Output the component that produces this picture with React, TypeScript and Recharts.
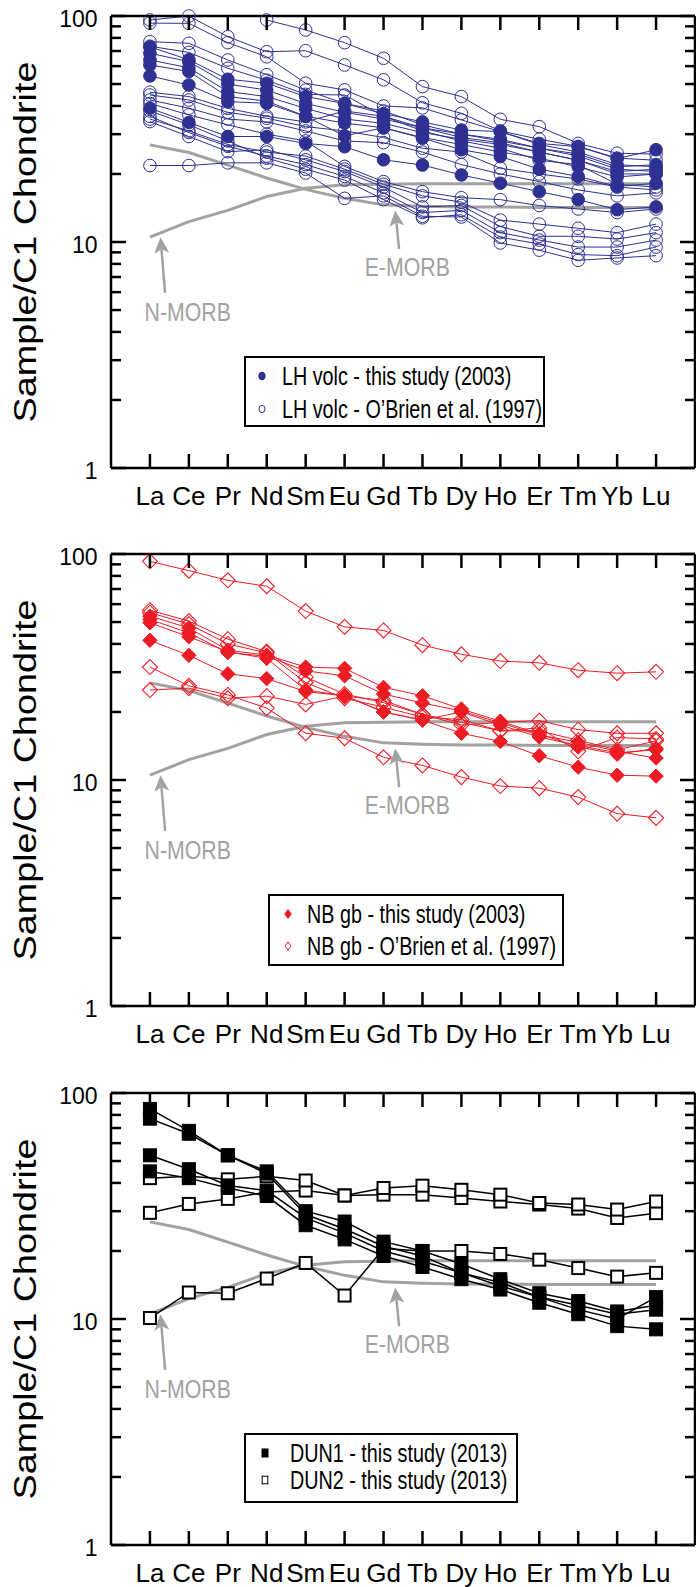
import React from 'react';
import { LineChart, Line, XAxis, YAxis, Legend, ReferenceLine, ReferenceDot } from 'recharts';

// ---------- data ----------
const ELEMENTS = ['La', 'Ce', 'Pr', 'Nd', 'Sm', 'Eu', 'Gd', 'Tb', 'Dy', 'Ho', 'Er', 'Tm', 'Yb', 'Lu'];
const X_TICKS = [0, 1, 2, 3, 4, 5, 6, 7, 8, 9, 10, 11, 12, 13];
const Y_TICKS = [1, 2, 3, 4, 5, 6, 7, 8, 9, 10, 20, 30, 40, 50, 60, 70, 80, 90, 100];
const Y_MAJOR = [1, 10, 100];

const N_MORB = [10.5, 12.3, 13.8, 15.9, 17.3, 17.9, 18.0, 18.1, 18.1, 18.1, 18.1, 18.1, 18.1, 18.1];
const E_MORB = [26.9, 24.9, 21.9, 19.2, 17.1, 15.6, 14.6, 14.4, 14.3, 14.3, 14.2, 14.2, 14.2, 14.2];

const LH_VOLC_2003 = [
  [73, 64, 52.5, 50.4, 44, 41, 37, 34, 31.3, 30.8, 27.3, 26.4, 23.4, 25.6],
  [68.4, 62.8, 50, 47, 41, 37.5, 35, 32, 30, 28.5, 26, 24.5, 21.5, 22],
  [63.9, 59, 46.3, 44, 39, 35, 33.5, 30.5, 28.5, 27, 25, 23, 20.5, 21],
  [60.7, 56.8, 44, 42, 36, 33.6, 32, 29, 27, 25, 23.5, 21.5, 19.4, 20],
  [54.3, 49.5, 41.8, 41.1, 35.9, 29.5, 32, 28.8, 25.6, 23.9, 21, 19.5, 17.6, 18.2],
  [39.1, 33.8, 29.3, 29.3, 27.3, 26.4, 23.1, 21.9, 19.8, 18.2, 16.7, 15.4, 13.9, 14.3],
];
const LH_VOLC_1997 = [
  [null, null, null, 96, 86.7, 76.2, 65, 48.7, 44, 34.9, 32.4, 27.3, 24.7, 24.5],
  [96, 100, 81, 69.5, 70.2, 60.7, 52.2, 41.3, 37.1, 31, 28.5, 26.5, 23.5, 23],
  [93, 92.8, 76.2, 66, 50.4, 47.1, 40, 39.2, 34.7, 30.8, 27, 25, 22, 21.5],
  [77, 75.7, 63.9, 55, 47, 41, 38, 33, 30, 28, 26, 24, 21, 20.5],
  [73.5, 69, 58.7, 52, 45, 44.7, 36, 32, 29, 27.5, 25, 23, 20, 20],
  [46, 44, 39, 36, 34, 38, 36, 31, 28, 26, 23, 22, 18, 17.5],
  [44.7, 42.5, 37.5, 35.3, 32.4, 31, 29, 26, 25, 21.2, 20, 19, 17.5, 17],
  [42.5, 39.1, 35, 34, 31, 28, 27.5, 25, 22, 20, 18.5, 17, 16, 16.5],
  [41, 36.5, 33, 30, 28, 21.6, 18.5, 16.7, 15.7, 15.4, 14.5, 14, 13.5, 14],
  [38, 33, 28, 23.5, 21, 18.8, 15.4, 12.8, 13.2, 10.5, 9.8, 8.8, 8.7, 9.5],
  [36, 30.5, 26.5, 24, 22, 19.5, 16.5, 13.5, 13.8, 11, 10.2, 9.5, 9.5, 10.2],
  [35, 31, 27, 25, 24, 21, 18, 16, 15, 12.5, 12, 11.5, 11, 12],
  [34.1, 29.3, 25.1, 25.6, 23.1, 20.5, 17.5, 14.3, 14.5, 11.7, 10.6, 10.6, 10.3, 11],
  [21.8, 21.8, 22.4, 22.4, 20.2, 15.6, 16, 13, 12.9, 9.9, 9.2, 8.3, 8.5, 8.7],
];

const NB_GB_2003 = [
  [53.1, 47.1, 37.5, 35.7, 31.6, 31.2, 25.7, 23.6, 20.6, 18.2, 16.0, 14.0, 13.0, 13.8],
  [51.3, 44.8, 36.6, 35.3, 30.4, 28.9, 24.0, 21.9, 20.2, 17.9, 15.8, 14.7, 13.4, 12.5],
  [49.6, 43.0, 37.0, 34.5, 25.0, 23.6, 20.0, 18.4, 20.0, 17.5, 15.5, 14.2, 13.2, 13.6],
  [41.5, 35.6, 29.5, 28.1, 24.6, 23.6, 20.0, 18.4, 16.1, 14.8, 12.8, 11.4, 10.5, 10.4],
];
const NB_GB_1997 = [
  [92.8, 84.4, 76.5, 72, 55.9, 47.6, 45.9, 39.5, 36.0, 33.6, 33.0, 30.6, 29.7, 30.1],
  [56.4, 50.5, 42, 37, 28.5, 24, 22, 19.5, 17.5, 18, 18.3, 16.7, 16.1, 16.1],
  [55, 49, 40, 36.5, 27, 23, 21, 19, 18.5, 16.5, 17, 13.4, 15.4, 15.2],
  [31.6, 26.1, 23.8, 20.8, 16.1, 15.3, 12.6, 11.6, 10.3, 9.4, 9.2, 8.4, 7.1, 6.8],
  [25, 25.5, 23, 23.5, 21.6, 23.5, 22.5, 19.5, 18, 16.5, 16.5, 15, 13.6, 14.9],
];

const DUN1_2013 = [
  [85, 68, 53, 45, 30, 27, 22, 20, 17.5, 15, 13, 12, 10.8, 11.5],
  [77, 66, 53, 44, 29, 25, 21, 19, 16, 14.5, 12.5, 11, 10, 12.5],
  [53, 46, 39, 37, 28, 24, 20, 18, 16, 14, 12.5, 11.5, 10.5, 11],
  [45, 42, 38, 35, 26, 22.5, 19, 17, 15, 13.5, 11.8, 10.5, 9.3, 9],
];
const DUN2_2013 = [
  [29.5, 32.3, 34, 36.5, 37, 35.2, 35.5, 35.5, 34.3, 33.1, 32.1, 30.8, 28, 29.4],
  [42, 42.8, 41.5, 42.8, 41, 35.2, 38, 38.9, 37.3, 35.5, 32.6, 32.1, 30.5, 33.1],
  [10.1, 13.1, 13, 15.1, 17.7, 12.7, 20.5, 20, 20, 19.4, 18.3, 16.8, 15.4, 16],
];

// annotation anchors in data coordinates (element index, normalised value)
const N_ARROW = [{ x: 0.39, y: 5.95 }, { x: 0.27, y: 10.5 }];
const E_ARROW = [{ x: 6.4, y: 9.3 }, { x: 6.3, y: 13.8 }];
const N_LABEL = { x: 0.97, y: 4.9 };
const E_LABEL = { x: 6.61, y: 7.8 };

// ---------- style ----------
const NAVY = '#2E3192';
const RED = '#ED1C24';
const BLACK = '#000000';
const GRAY = '#A2A2A2';
const FONT = "'Liberation Sans', Arial, Helvetica, sans-serif";
const AXIS_LINE = { stroke: '#000', strokeWidth: 2.5 };

type Shape = 'circle' | 'diamond' | 'square';
type Group = {
  prefix: string;
  series: (number | null)[][];
  shape: Shape;
  filled: boolean;
  color: string;
  lineWidth: number;
  size: number;
  markerStroke: number;
};

function buildRows(groups: Group[]) {
  return ELEMENTS.map((el, i) => {
    const row: Record<string, any> = { i, el, nmorb: N_MORB[i], emorb: E_MORB[i] };
    groups.forEach((g) =>
      g.series.forEach((s, k) => {
        row[`${g.prefix}${k}`] = s[i];
      })
    );
    return row;
  });
}

function markerEl(shape: Shape, filled: boolean, color: string, cx: number, cy: number, s: number, sw: number, key?: string) {
  if (shape === 'circle') {
    return <circle key={key} cx={cx} cy={cy} r={s} fill={filled ? color : 'none'} stroke={color} strokeWidth={sw} />;
  }
  if (shape === 'diamond') {
    return (
      <polygon
        key={key}
        points={`${cx},${cy - s} ${cx + s},${cy} ${cx},${cy + s} ${cx - s},${cy}`}
        fill={filled ? color : 'none'}
        stroke={color}
        strokeWidth={sw}
      />
    );
  }
  return <rect key={key} x={cx - s} y={cy - s} width={2 * s} height={2 * s} fill={filled ? color : '#fff'} stroke={color} strokeWidth={sw} />;
}

const makeDot = (g: Group) => (props: any) => {
  const { cx, cy, index, dataKey, payload } = props;
  const key = `${dataKey}-${index}`;
  const v = payload ? payload[dataKey] : null;
  if (v == null || cx == null || cy == null || Number.isNaN(cy)) return <g key={key} />;
  return markerEl(g.shape, g.filled, g.color, cx, cy, g.size, g.markerStroke, key);
};

// ---------- axis ticks ----------
const BottomTick = (p: any) => {
  const { x, y, payload } = p;
  return (
    <g>
      <line x1={x} y1={y} x2={x} y2={y - 14} stroke="#000" strokeWidth={2.5} />
      <text transform={`translate(${x},${y + 37})`} textAnchor="middle" fontSize={26} fontFamily={FONT} fill="#000">
        {ELEMENTS[payload.value]}
      </text>
    </g>
  );
};
const TopTick = (p: any) => {
  const { x, y } = p;
  return <line x1={x} y1={y} x2={x} y2={y + 14} stroke="#000" strokeWidth={2.5} />;
};
const LeftTick = (p: any) => {
  const { x, y, payload } = p;
  const major = Y_MAJOR.includes(payload.value);
  return (
    <g>
      <line x1={x} y1={y} x2={x + (major ? 15 : 10)} y2={y} stroke="#000" strokeWidth={2.5} />
      {major && (
        <text x={x - 13.5} y={y + 2.5} dy="0.36em" textAnchor="end" fontSize={23} fontFamily={FONT} fill="#000">
          {payload.value}
        </text>
      )}
    </g>
  );
};
const RightTick = (p: any) => {
  const { x, y, payload } = p;
  const major = Y_MAJOR.includes(payload.value);
  return <line x1={x} y1={y} x2={x - (major ? 15 : 10)} y2={y} stroke="#000" strokeWidth={2.5} />;
};

const YLabel = () => (
  <text transform="translate(35.5,242) rotate(-90) scale(1.18,1)" textAnchor="middle" fontSize={32} fontFamily={FONT} fill="#000">
    Sample/C1 Chondrite
  </text>
);

// ---------- annotations ----------
const Arrow = (p: any) => {
  const { x1, y1, x2, y2 } = p;
  const dx = x2 - x1;
  const dy = y2 - y1;
  const len = Math.hypot(dx, dy) || 1;
  const ux = dx / len;
  const uy = dy / len;
  const px = -uy;
  const py = ux;
  const headLen = 16;
  const headW = 7.5;
  const notch = 4;
  const bx = x2 - ux * headLen;
  const by = y2 - uy * headLen;
  const nx = x2 - ux * (headLen - notch);
  const ny = y2 - uy * (headLen - notch);
  return (
    <g>
      <line x1={x1} y1={y1} x2={nx} y2={ny} stroke={GRAY} strokeWidth={2.5} />
      <polygon points={`${x2},${y2} ${bx + px * headW},${by + py * headW} ${nx},${ny} ${bx - px * headW},${by - py * headW}`} fill={GRAY} />
    </g>
  );
};
const morbLabel = (text: string) => (p: any) => (
  <text transform={`translate(${p.cx},${p.cy}) scale(0.82,1)`} dy="0.36em" textAnchor="middle" fontSize={26} fontFamily={FONT} fill={GRAY}>
    {text}
  </text>
);

// ---------- legend ----------
type LegendCfg = {
  left: number;
  top: number;
  width: number;
  height: number;
  rows: number[];
  markerX: number;
  textX: number;
  items: { label: string; shape: Shape; filled: boolean; color: string; w: number; h: number }[];
};

const LegendBox = ({ cfg }: { cfg: LegendCfg }) => (
  <div
    style={{
      width: cfg.width,
      height: cfg.height,
      boxSizing: 'border-box',
      border: '2px solid #000',
      background: '#fff',
      position: 'relative',
    }}
  >
    {cfg.items.map((it, k) => (
      <React.Fragment key={k}>
        <svg
          width={16}
          height={16}
          style={{ position: 'absolute', left: cfg.markerX - 2 - 8, top: cfg.rows[k] - 2 - 8, overflow: 'visible' }}
        >
          {it.shape === 'circle' && (
            <ellipse cx={8} cy={8} rx={it.w} ry={it.h} fill={it.filled ? it.color : '#fff'} stroke={it.color} strokeWidth={1} />
          )}
          {it.shape === 'diamond' && (
            <polygon
              points={`8,${8 - it.h} ${8 + it.w},8 8,${8 + it.h} ${8 - it.w},8`}
              fill={it.filled ? it.color : '#fff'}
              stroke={it.color}
              strokeWidth={1}
            />
          )}
          {it.shape === 'square' && (
            <rect x={8 - it.w} y={8 - it.h} width={2 * it.w} height={2 * it.h} fill={it.filled ? it.color : '#fff'} stroke={it.color} strokeWidth={1} />
          )}
        </svg>
        <span
          style={{
            position: 'absolute',
            left: cfg.textX - 2,
            top: cfg.rows[k] - 2,
            transform: 'translateY(-50%) scaleX(0.79)',
            transformOrigin: 'left center',
            whiteSpace: 'nowrap',
            fontSize: 25,
            lineHeight: 1,
            fontFamily: FONT,
            color: '#000',
          }}
        >
          {it.label}
        </span>
      </React.Fragment>
    ))}
  </div>
);

// ---------- panel ----------
function Panel({ top, height, groups, legend }: { top: number; height: number; groups: Group[]; legend: LegendCfg }) {
  const data = buildRows(groups);
  return (
    <div style={{ position: 'absolute', left: 0, top, width: 696, height }}>
      <LineChart width={696} height={height} data={data} margin={{ top: 15, right: 0, bottom: 0, left: 0 }}>
        <XAxis
          xAxisId="top"
          orientation="top"
          type="number"
          dataKey="i"
          domain={[-1, 14]}
          ticks={X_TICKS}
          interval={0}
          height={1}
          allowDataOverflow
          tickLine={false}
          tickSize={0}
          tickMargin={0}
          axisLine={AXIS_LINE}
          tick={TopTick}
        />
        <XAxis
          type="number"
          dataKey="i"
          domain={[-1, 14]}
          ticks={X_TICKS}
          interval={0}
          height={height - 468}
          tickLine={false}
          tickSize={0}
          tickMargin={0}
          axisLine={AXIS_LINE}
          tick={BottomTick}
        />
        <YAxis
          type="number"
          scale="log"
          domain={[1, 100]}
          ticks={Y_TICKS}
          interval={0}
          width={111}
          tickLine={false}
          tickSize={0}
          tickMargin={0}
          axisLine={AXIS_LINE}
          tick={LeftTick}
          label={{ content: YLabel }}
        />
        <YAxis
          yAxisId="right"
          orientation="right"
          type="number"
          scale="log"
          domain={[1, 100]}
          ticks={Y_TICKS}
          interval={0}
          width={1}
          allowDataOverflow
          tickLine={false}
          tickSize={0}
          tickMargin={0}
          axisLine={AXIS_LINE}
          tick={RightTick}
        />
        <Line dataKey="nmorb" type="linear" stroke={GRAY} strokeWidth={3} dot={false} activeDot={false} isAnimationActive={false} />
        <Line dataKey="emorb" type="linear" stroke={GRAY} strokeWidth={3} dot={false} activeDot={false} isAnimationActive={false} />
        {groups.map((g) =>
          g.series.map((_, k) => (
            <Line
              key={`${g.prefix}${k}`}
              dataKey={`${g.prefix}${k}`}
              type="linear"
              stroke={g.color}
              strokeWidth={g.lineWidth}
              dot={makeDot(g)}
              activeDot={false}
              isAnimationActive={false}
            />
          ))
        )}
        <ReferenceLine segment={N_ARROW} shape={Arrow} />
        <ReferenceLine segment={E_ARROW} shape={Arrow} />
        <ReferenceDot x={N_LABEL.x} y={N_LABEL.y} shape={morbLabel('N-MORB')} />
        <ReferenceDot x={E_LABEL.x} y={E_LABEL.y} shape={morbLabel('E-MORB')} />
        <Legend
          layout="horizontal"
          verticalAlign="middle"
          align="center"
          width={legend.width}
          height={legend.height}
          wrapperStyle={{ left: legend.left, top: legend.top, width: legend.width, height: legend.height }}
          content={() => <LegendBox cfg={legend} />}
        />
      </LineChart>
    </div>
  );
}

const PANEL1_GROUPS: Group[] = [
  { prefix: 'lho', series: LH_VOLC_1997, shape: 'circle', filled: false, color: NAVY, lineWidth: 1, size: 6.3, markerStroke: 1 },
  { prefix: 'lhf', series: LH_VOLC_2003, shape: 'circle', filled: true, color: NAVY, lineWidth: 1, size: 6.3, markerStroke: 1 },
];
const PANEL2_GROUPS: Group[] = [
  { prefix: 'nbo', series: NB_GB_1997, shape: 'diamond', filled: false, color: RED, lineWidth: 1, size: 7.5, markerStroke: 1.1 },
  { prefix: 'nbf', series: NB_GB_2003, shape: 'diamond', filled: true, color: RED, lineWidth: 1, size: 7.2, markerStroke: 1 },
];
const PANEL3_GROUPS: Group[] = [
  { prefix: 'd2', series: DUN2_2013, shape: 'square', filled: false, color: BLACK, lineWidth: 1.5, size: 6, markerStroke: 2 },
  { prefix: 'd1', series: DUN1_2013, shape: 'square', filled: true, color: BLACK, lineWidth: 1.5, size: 6.5, markerStroke: 1 },
];

const LEGEND1: LegendCfg = {
  left: 244,
  top: 356,
  width: 301,
  height: 71,
  rows: [20, 53],
  markerX: 18.3,
  textX: 37.7,
  items: [
    { label: 'LH volc - this study (2003)', shape: 'circle', filled: true, color: NAVY, w: 3.2, h: 3.8 },
    { label: 'LH volc - O\u2019Brien et al. (1997)', shape: 'circle', filled: false, color: NAVY, w: 3, h: 3.6 },
  ],
};
const LEGEND2: LegendCfg = {
  left: 268,
  top: 356,
  width: 296,
  height: 72,
  rows: [20, 52],
  markerX: 20,
  textX: 39,
  items: [
    { label: 'NB gb - this study (2003)', shape: 'diamond', filled: true, color: RED, w: 3.2, h: 4.4 },
    { label: 'NB gb - O\u2019Brien et al. (1997)', shape: 'diamond', filled: false, color: RED, w: 3, h: 4.2 },
  ],
};
const LEGEND3: LegendCfg = {
  left: 244,
  top: 356,
  width: 274,
  height: 70,
  rows: [20, 47],
  markerX: 20.6,
  textX: 46,
  items: [
    { label: 'DUN1 - this study (2013)', shape: 'square', filled: true, color: BLACK, w: 3, h: 4 },
    { label: 'DUN2 - this study (2013)', shape: 'square', filled: false, color: BLACK, w: 2.8, h: 3.8 },
  ],
};

export default function App() {
  return (
    <div style={{ position: 'absolute', left: 0, top: 0, width: 696, height: 1587, background: '#fff', overflow: 'hidden' }}>
      <Panel top={0} height={538} groups={PANEL1_GROUPS} legend={LEGEND1} />
      <Panel top={538} height={538} groups={PANEL2_GROUPS} legend={LEGEND2} />
      <Panel top={1077} height={510} groups={PANEL3_GROUPS} legend={LEGEND3} />
    </div>
  );
}
